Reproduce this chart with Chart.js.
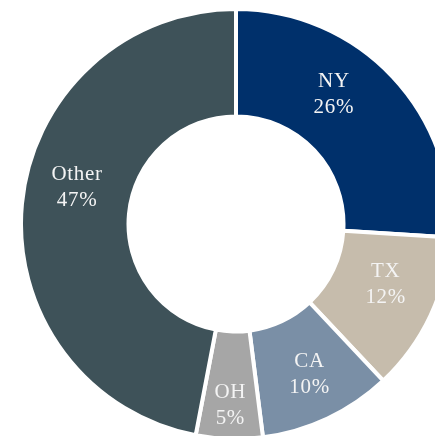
<!DOCTYPE html>
<html>
<head>
<meta charset="utf-8">
<script src="https://cdn.jsdelivr.net/npm/chart.js@4/dist/chart.umd.min.js"></script>
<style>
  html, body { margin: 0; padding: 0; background: #fff; overflow: hidden; width: 435px; height: 436px; }
  #wrap { position: absolute; left: 19px; top: 7px; width: 434px; height: 434px; }
</style>
</head>
<body>
<div id="wrap"><canvas id="state-chart"></canvas></div>
<script>
var states = ["NY", "TX", "CA", "OH", "Other"];
var shares = [26, 12, 10, 5, 47];
var colors = ["#00306B", "#C6BCAC", "#7A8FA6", "#A6A6A6", "#3E5259"];

// small hand nudges so labels sit where the original put them (deg, fraction of ring)
var labelNudge = {
  NY: {angle: -10, pos: 0.52},
  TX: {angle: -3.4, pos: 0.5},
  CA: {angle: -1, pos: 0.55},
  OH: {angle: 0, pos: 0.68},
  Other: {angle: 8, pos: 0.52}
};

var sliceLabels = {
  id: 'sliceLabels',
  afterDatasetsDraw: function(chart) {
    var ctx = chart.ctx;
    var meta = chart.getDatasetMeta(0);
    ctx.save();
    ctx.fillStyle = '#f4f4f4';
    ctx.font = '21px "Liberation Serif", serif';
    ctx.letterSpacing = '0.7px';
    ctx.textAlign = 'center';
    ctx.textBaseline = 'middle';
    meta.data.forEach(function(arc, i) {
      var p = arc.getProps(['x', 'y', 'startAngle', 'endAngle', 'innerRadius', 'outerRadius'], true);
      var n = labelNudge[states[i]] || {angle: 0, pos: 0.5};
      var a = (p.startAngle + p.endAngle) / 2 + n.angle * Math.PI / 180;
      var r = p.innerRadius + n.pos * (p.outerRadius - p.innerRadius);
      var cx = p.x + Math.cos(a) * r;
      var cy = p.y + Math.sin(a) * r;
      ctx.fillText(states[i], cx, cy - 12);
      ctx.fillText(shares[i] + '%', cx, cy + 14);
    });
    ctx.restore();
  }
};

var stateChart = new Chart(document.getElementById('state-chart'), {
  type: 'doughnut',
  data: {
    labels: states,
    datasets: [{
      data: shares,
      backgroundColor: colors,
      borderColor: '#ffffff',
      borderWidth: 4,
      hoverOffset: 0
    }]
  },
  options: {
    responsive: true, maintainAspectRatio: false, animation: false,
    cutout: '50%',
    layout: {padding: 0},
    plugins: {legend: {display: false}, tooltip: {enabled: false}}
  },
  plugins: [sliceLabels]
});
</script>
</body>
</html>
